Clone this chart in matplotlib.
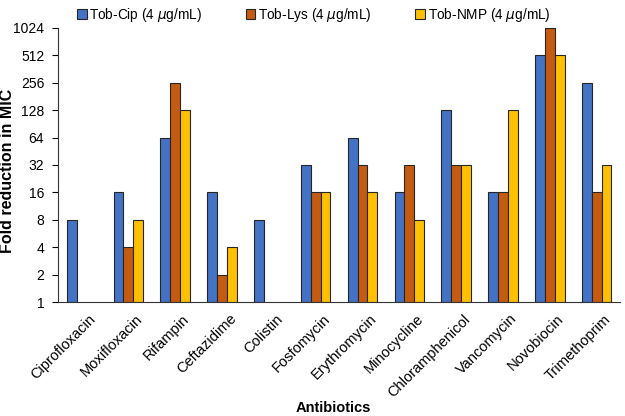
import numpy as np
import matplotlib.pyplot as plt

plt.rcParams['font.family'] = ['Liberation Sans', 'DejaVu Sans']

# Data (fold reduction in MIC)
antibiotics = ['Ciprofloxacin', 'Moxifloxacin', 'Rifampin', 'Ceftazidime', 'Colistin',
               'Fosfomycin', 'Erythromycin', 'Minocycline', 'Chloramphenicol',
               'Vancomycin', 'Novobiocin', 'Trimethoprim']
tob_cip = [8, 16, 64, 16, 8, 32, 64, 16, 128, 16, 512, 256]
tob_lys = [np.nan, 4, 256, 2, np.nan, 16, 32, 32, 32, 16, 1024, 16]
tob_nmp = [np.nan, 8, 128, 4, np.nan, 16, 16, 8, 32, 128, 512, 32]
yticks = [1, 2, 4, 8, 16, 32, 64, 128, 256, 512, 1024]

series = [
    (tob_cip, '#4472C4', 'Tob-Cip (4 $\\mu$g/mL)'),
    (tob_lys, '#C55A11', 'Tob-Lys (4 $\\mu$g/mL)'),
    (tob_nmp, '#FFC000', 'Tob-NMP (4 $\\mu$g/mL)'),
]

fig = plt.figure(figsize=(6.25, 4.16), dpi=100)
ax = fig.add_axes([0.093, 0.274, 0.899, 0.659])

x = np.arange(len(antibiotics))
w = 0.21
for i, (vals, color, label) in enumerate(series):
    heights = np.array(vals, dtype=float) - 1
    ax.bar(x + (i - 1) * w, heights, width=w, bottom=1, color=color,
           edgecolor='#262626', linewidth=0.8, label=label)

ax.set_yscale('log', base=2)
ax.set_ylim(1, 1024)
ax.set_yticks(yticks)
ax.set_yticklabels([str(t) for t in yticks], fontsize=10)
ax.minorticks_off()
ax.set_xlim(-0.5, len(antibiotics) - 0.5)
ax.set_xticks(x + 0.15)
ax.set_xticklabels(antibiotics, rotation=45, ha='right', rotation_mode='anchor', fontsize=10.5)
ax.tick_params(axis='x', length=0, pad=7)
ax.tick_params(axis='y', length=4, direction='out', pad=6)

ax.spines['top'].set_visible(False)
ax.spines['right'].set_visible(False)
ax.spines['left'].set_color('#333333')
ax.spines['bottom'].set_color('#333333')

ax.set_ylabel('Fold reduction in MIC', fontsize=11.5, fontweight='bold')
ax.yaxis.set_label_coords(-0.077, 0.48)
ax.set_xlabel('Antibiotics', fontsize=10.5, fontweight='bold')
ax.xaxis.set_label_coords(0.49, -0.36)

ax.legend(loc='upper center', bbox_to_anchor=(0.455, 1.125), ncol=3, frameon=False,
          fontsize=9.8, handlelength=0.7, handleheight=0.7, handletextpad=0.2,
          columnspacing=3.2)

plt.savefig('out.png', dpi=100)
